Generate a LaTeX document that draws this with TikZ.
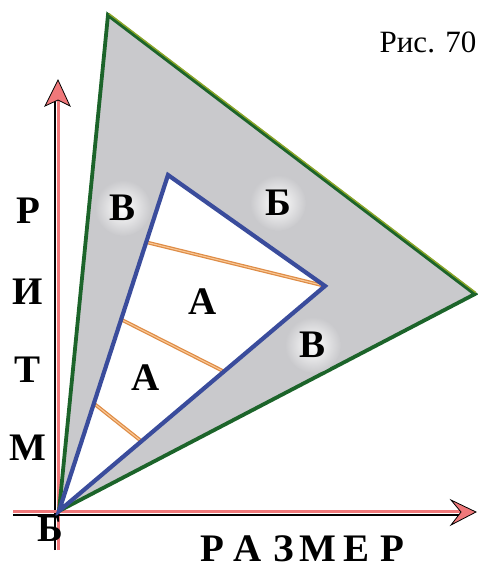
\documentclass[tikz,border=0pt]{standalone}
\usepackage{fontspec}
\setmainfont{Liberation Serif}
\usetikzlibrary{calc}
\definecolor{fillgray}{RGB}{201,201,204}
\definecolor{edgegreen}{RGB}{28,100,42}
\definecolor{edgeolive}{RGB}{140,165,40}
\definecolor{edgeblue}{RGB}{58,76,156}
\definecolor{rope}{RGB}{222,140,70}
\definecolor{ropelight}{RGB}{250,200,150}
\definecolor{axpink}{RGB}{240,120,122}
\begin{document}
\begin{tikzpicture}[x=1pt,y=-1pt,
  lbl/.style={font=\fontsize{39}{39}\selectfont\bfseries, inner sep=0pt},
  glow/.style={inner color=white, outer color=fillgray},
  ropeline/.style={rope, line width=3.6pt},
  ropehi/.style={ropelight, line width=1.1pt},
  axblack/.style={black, line width=2.2pt},
  axred/.style={axpink, line width=3pt},
  headstyle/.style={fill=axpink, draw=black, line width=0.8pt, line join=miter}]
\useasboundingbox (0,0) rectangle (478,568);
\coordinate (O) at (59,511);
\coordinate (T1) at (108,15);
\coordinate (R1) at (475,294);
\coordinate (T2) at (168,175);
\coordinate (R2) at (325,286);
% axes
\coordinate (VB) at (57,550);
\coordinate (VT) at (57,100);
\coordinate (HL) at (13,513);
\coordinate (HR) at (462,513);
\draw[axblack] ($(VB)+(-2,0)$) -- ($(VT)+(-2,0)$);
\draw[axred] ($(VB)+(1.5,0)$) -- ($(VT)+(1.5,0)$);
\draw[axred] ($(HL)+(0,-1.5)$) -- ($(HR)+(0,-1.5)$);
\draw[axblack] ($(HL)+(0,2)$) -- ($(HR)+(0,2)$);
\path[headstyle] (58,80) -- (70,106) -- (58,100) -- (45,106) -- cycle;
\path[headstyle] (476,512) -- (451,525) -- (461,512) -- (451,500) -- cycle;
% outer triangle
\filldraw[fill=fillgray, draw=edgegreen, line width=3.8pt, line join=miter] (O) -- (T1) -- (R1) -- cycle;
\draw[edgeolive, line width=1.4pt] ($(T1)+(0.9,-1.4)$) -- ($(R1)+(0.9,-1.4)$);
% glows
\shade[glow] (123,208) circle (28);
\shade[glow] (278,203) circle (28);
\shade[glow] (313,345) circle (28);
% inner triangle
\fill[white] (O) -- (T2) -- (R2) -- cycle;
\coordinate (L1) at ($(O)!0.80!(T2)$);
\coordinate (L2) at ($(O)!0.57!(T2)$);
\coordinate (M2) at ($(O)!0.62!(R2)$);
\coordinate (L3) at ($(O)!0.32!(T2)$);
\coordinate (M3) at ($(O)!0.31!(R2)$);
\draw[ropeline] (L1) -- (R2);
\draw[ropeline] (L2) -- (M2);
\draw[ropeline] (L3) -- (M3);
\draw[ropehi] (L1) -- (R2);
\draw[ropehi] (L2) -- (M2);
\draw[ropehi] (L3) -- (M3);
\draw[edgeblue, line width=4.2pt, line join=miter] (O) -- (T2) -- (R2) -- cycle;
% labels
\node[lbl] (v1) at (123,208) {В};
\node[lbl] (b1) at (278,203) {Б};
\node[lbl] (a1) at (203,302) {А};
\node[lbl] (a2) at (146,378) {А};
\node[lbl] (v2) at (313,345) {В};
\node[lbl] (p1) at (28,211) {Р};
\node[lbl] (i1) at (28,292) {И};
\node[lbl] (t1) at (28,370) {Т};
\node[lbl] (m1) at (28,448) {М};
\node[lbl] (b0) at (50,529) {Б};
\node[lbl] (r1) at (212,549) {Р};
\node[lbl] (r2) at (248,549) {А};
\node[lbl] (r3) at (284,549) {З};
\node[lbl] (r4) at (318,549) {М};
\node[lbl] (r5) at (357,549) {Е};
\node[lbl] (r6) at (392,549) {Р};
\node[font=\fontsize{31}{31}\selectfont, inner sep=0pt] (fig) at (428,42) {Рис. 70};
\end{tikzpicture}
\end{document}
